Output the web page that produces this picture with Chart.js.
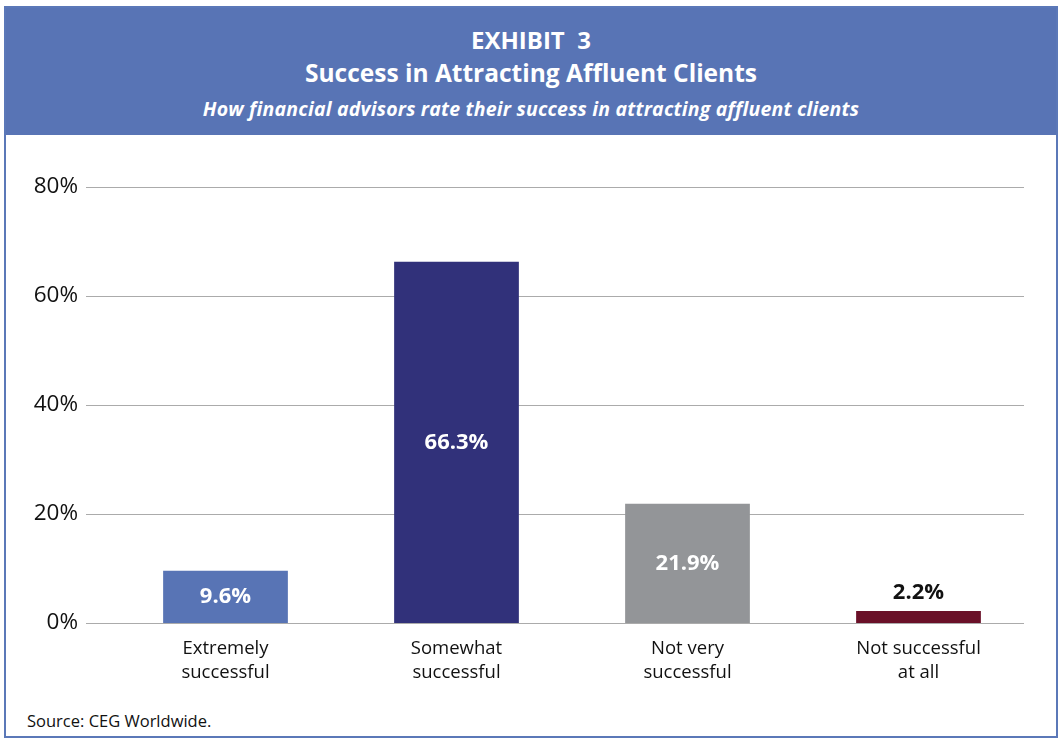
<!DOCTYPE html>
<html>
<head>
<meta charset="utf-8">
<script src="https://cdn.jsdelivr.net/npm/chart.js@4.4.0/dist/chart.umd.min.js"></script>
<style>
  body { margin: 0; background: #fff; font-family: "Open Sans", sans-serif; }
  #frame { position: absolute; left: 4px; top: 6px; width: 1050px; height: 728px; border: 2px solid #5b78b8; }
  #header { position: absolute; left: 0; top: 0; width: 1050px; height: 127px; background: #5874b5; color: #fff; text-align: center; }
  #t1 { position: absolute; top: 15px; width: 100%; font: bold 24px "Open Sans", sans-serif; }
  #t2 { position: absolute; top: 48px; width: 100%; font: bold 24.5px "Open Sans", sans-serif; }
  #t3 { position: absolute; top: 87px; width: 100%; font: italic bold 19.5px "Open Sans", sans-serif; letter-spacing: 0.2px; }
  #box { position: absolute; left: 6px; top: 135px; width: 1050px; height: 570px; }
  #source { position: absolute; left: 27px; top: 709px; font: 16.5px "Open Sans", sans-serif; color: #111; }
</style>
</head>
<body>
<div id="frame">
  <div id="header">
    <div id="t1">EXHIBIT&nbsp; 3</div>
    <div id="t2">Success in Attracting Affluent Clients</div>
    <div id="t3">How financial advisors rate their success in attracting affluent clients</div>
  </div>
</div>
<div id="box"><canvas id="myChart"></canvas></div>
<div id="source">Source: CEG Worldwide.</div>
<script>
const categories = [['Extremely', 'successful'], ['Somewhat', 'successful'], ['Not very', 'successful'], ['Not successful', 'at all']];
const values = [9.6, 66.3, 21.9, 2.2];
const barColors = ['#5874b5', '#31317a', '#939598', '#6a1028'];
const yTicks = [0, 20, 40, 60, 80];

// horizontal lines, a bit wider than the bars area
const gridLines = {
    id: 'gridLines',
    beforeDatasetsDraw(chart) {
        const ctx = chart.ctx;
        const y = chart.scales.y;
        ctx.save();
        ctx.strokeStyle = '#ababab';
        ctx.lineWidth = 1;
        yTicks.forEach(t => {
            const py = Math.round(y.getPixelForValue(t)) + 0.5;
            ctx.beginPath();
            ctx.moveTo(80, py);
            ctx.lineTo(1018, py);
            ctx.stroke();
        });
        ctx.restore();
    }
};

const barLabels = {
    id: 'barLabels',
    afterDatasetsDraw(chart) {
        const ctx = chart.ctx;
        const meta = chart.getDatasetMeta(0);
        ctx.save();
        ctx.font = 'bold 22px "Open Sans", sans-serif';
        ctx.textAlign = 'center';
        ctx.textBaseline = 'middle';
        meta.data.forEach((bar, i) => {
            const text = values[i].toFixed(1) + '%';
            if (values[i] < 5) {
                ctx.fillStyle = '#111';
                ctx.fillText(text, bar.x, bar.y - 18);
            } else {
                ctx.fillStyle = '#fff';
                ctx.fillText(text, bar.x, (bar.y + bar.base) / 2);
            }
        });
        ctx.restore();
    }
};

function getChart(){
    const ctx = document.getElementById('myChart');
    new Chart(ctx, {
        type: 'bar',
        data: {
            labels: categories,
            datasets: [{
                data: values,
                backgroundColor: barColors,
                barPercentage: 0.54,
                categoryPercentage: 1
            }]
        },
        options: {
            responsive: true,
            maintainAspectRatio: false,
            animation: false,
            layout: { padding: { left: 0, right: 22, top: 52, bottom: 2 } },
            plugins: { legend: { display: false }, tooltip: { enabled: false } },
            scales: {
                x: {
                    grid: { display: false },
                    border: { display: false },
                    ticks: {
                        color: '#111',
                        padding: 6,
                        maxRotation: 0,
                        font: { family: '"Open Sans", sans-serif', size: 18.5, lineHeight: 1.3 }
                    },
                    afterFit(scale) { scale.height = 80; }
                },
                y: {
                    min: 0,
                    max: 80,
                    grid: { display: false },
                    border: { display: false },
                    afterBuildTicks(scale) { scale.ticks = yTicks.map(v => ({ value: v })); },
                    ticks: {
                        color: '#111',
                        padding: 24,
                        font: { family: '"Open Sans", sans-serif', size: 22.5 },
                        callback: v => v + '%'
                    },
                    afterFit(scale) { scale.width = 104; }
                }
            }
        },
        plugins: [gridLines, barLabels]
    });
}

document.addEventListener('DOMContentLoaded', (event) => {
    getChart();
});
</script>
</body>
</html>
